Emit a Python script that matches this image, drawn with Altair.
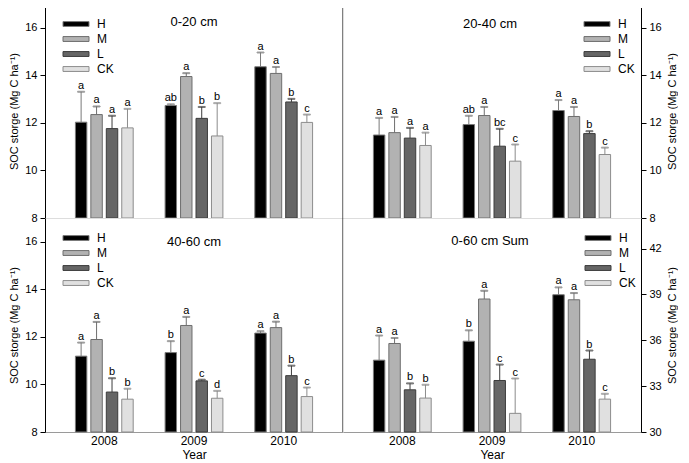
import altair as alt
import pandas as pd

years = ["2008", "2009", "2010"]
treatments = ["H", "M", "L", "CK"]
fill_colors = ["#000000", "#b2b2b2", "#666666", "#e0e0e0"]
edge_colors = ["#7a7a7a", "#6e6e6e", "#3c3c3c", "#8c8c8c"]

titles = ["0-20 cm", "20-40 cm", "40-60 cm", "0-60 cm Sum"]

mean_0_20 = [[12.03, 12.35, 11.76, 11.79], [12.73, 13.95, 12.19, 11.45], [14.36, 14.08, 12.88, 12.02]]
se_0_20 = [[1.28, 0.34, 0.54, 0.80], [0.05, 0.14, 0.48, 1.38], [0.60, 0.27, 0.13, 0.33]]
letters_0_20 = [["a", "a", "a", "a"], ["ab", "a", "b", "b"], ["a", "a", "b", "c"]]

mean_20_40 = [[11.49, 11.59, 11.36, 11.05], [11.93, 12.31, 11.02, 10.39], [12.52, 12.27, 11.55, 10.67]]
se_20_40 = [[0.72, 0.66, 0.43, 0.54], [0.37, 0.36, 0.73, 0.70], [0.44, 0.40, 0.10, 0.29]]
letters_20_40 = [["a", "a", "a", "a"], ["ab", "a", "bc", "c"], ["a", "a", "b", "c"]]

mean_40_60 = [[11.19, 11.89, 9.68, 9.38], [11.34, 12.48, 10.15, 9.42], [12.16, 12.39, 10.37, 9.49]]
se_40_60 = [[0.57, 0.74, 0.58, 0.44], [0.48, 0.36, 0.05, 0.31], [0.08, 0.25, 0.42, 0.38]]
letters_40_60 = [["a", "a", "b", "b"], ["b", "a", "c", "d"], ["a", "a", "b", "c"]]

mean_sum = [[34.70, 35.79, 32.76, 32.22], [35.94, 38.70, 33.37, 31.22], [38.98, 38.65, 34.76, 32.15]]
se_sum = [[1.61, 0.36, 0.42, 0.87], [0.71, 0.54, 1.04, 2.28], [0.48, 0.44, 0.57, 0.35]]
letters_sum = [["a", "a", "b", "b"], ["b", "a", "c", "c"], ["a", "a", "b", "c"]]

depth_ticks = [8, 10, 12, 14, 16]
depth_domain = [8, 17]
sum_ticks = [30, 33, 36, 39, 42]
sum_domain = [30, 44]

FONT = "Liberation Sans"
W, H = 298, 214
AXIS_TITLE = "SOC storge (Mg C ha\u207b\u00b9)"


def make_df(means, ses, letters):
    rows = []
    for yi, yr in enumerate(years):
        for ti, tr in enumerate(treatments):
            m = means[yi][ti]
            s = ses[yi][ti]
            rows.append({"year": yr, "treatment": tr, "mean": m,
                         "upper": round(m + s, 3), "letter": letters[yi][ti]})
    return pd.DataFrame(rows)


def panel(title, title_y, means, ses, letters, domain, ticks, side, bottom, legend_x):
    df = make_df(means, ses, letters)
    base = alt.Chart(df)
    x = alt.X("year:N", sort=years,
              scale=alt.Scale(paddingInner=0.311, paddingOuter=0.3166),
              axis=alt.Axis(title="Year" if bottom else None, labels=bottom, ticks=False,
                            labelAngle=0, domainColor="#9a9a9a", labelFontSize=12,
                            labelPadding=3, titlePadding=3, titleFontSize=12,
                            titleFontWeight="normal", labelColor="black", titleColor="black"))
    xo = alt.XOffset("treatment:N", sort=treatments,
                     scale=alt.Scale(paddingInner=0.26, paddingOuter=0.13))
    yscale = alt.Scale(domain=domain, zero=False, nice=False)
    yaxis = alt.Axis(values=ticks, orient=side, title=AXIS_TITLE, tickSize=5,
                     domainColor="black", tickColor="black", labelFontSize=11,
                     titleFontSize=11, titleFontWeight="normal", titleAngle=270,
                     titleBaseline="top" if side == "right" else "bottom",
                     labelPadding=3, titlePadding=5, grid=False,
                     labelColor="black", titleColor="black")
    color = alt.Color("treatment:N", sort=treatments,
                      scale=alt.Scale(domain=treatments, range=fill_colors),
                      legend=alt.Legend(title=None, orient="none", legendX=legend_x, legendY=14,
                                        symbolType="M-4,-0.75L4,-0.75L4,0.75L-4,0.75Z",
                                        symbolSize=42.25, symbolStrokeColor="#7a7a7a",
                                        symbolStrokeWidth=1, symbolOpacity=1,
                                        labelFontSize=12, labelFont=FONT, labelOffset=15,
                                        rowPadding=3, padding=0, labelColor="black"))
    stroke = alt.Stroke("treatment:N", sort=treatments,
                        scale=alt.Scale(domain=treatments, range=edge_colors), legend=None)

    bars = base.mark_bar(strokeWidth=1).encode(
        x=x, xOffset=xo, y=alt.Y("mean:Q", scale=yscale, axis=yaxis),
        y2=alt.datum(domain[0]), color=color, stroke=stroke)
    err = base.mark_rule(strokeWidth=1).encode(
        x=x, xOffset=xo, y=alt.Y("mean:Q", scale=yscale, axis=yaxis), y2="upper:Q", stroke=stroke)
    cap = base.mark_tick(orient="horizontal", size=7, thickness=1).encode(
        x=x, xOffset=xo, y=alt.Y("upper:Q", scale=yscale, axis=yaxis), stroke=stroke,
        color=alt.value("#555555"))
    lab = base.mark_text(baseline="alphabetic", dy=-3, fontSize=11, font=FONT, color="black").encode(
        x=x, xOffset=xo, y=alt.Y("upper:Q", scale=yscale, axis=yaxis), text="letter:N")
    ttl = alt.Chart(pd.DataFrame({"t": [title]})).mark_text(
        fontSize=13, font=FONT, color="black", baseline="middle").encode(
        text="t:N", x=alt.value(W / 2 - (2 if side == "right" else 0)), y=alt.value(title_y))
    layers = [bars, err, cap, lab, ttl]
    if side == "left":
        frame = alt.Chart(pd.DataFrame({"t": [0]})).mark_rule(color="black", strokeWidth=1).encode(
            x=alt.value(W), y=alt.value(0), y2=alt.value(H))
        layers.append(frame)
    return alt.layer(*layers).properties(width=W, height=H)


tl = panel(titles[0], 18, mean_0_20, se_0_20, letters_0_20, depth_domain, depth_ticks, "left", False, 25)
tr = panel(titles[1], 20, mean_20_40, se_20_40, letters_20_40, depth_domain, depth_ticks, "right", False, 248)
bl = panel(titles[2], 24, mean_40_60, se_40_60, letters_40_60, depth_domain, depth_ticks, "left", True, 25)
br = panel(titles[3], 23, mean_sum, se_sum, letters_sum, sum_domain, sum_ticks, "right", True, 249)

chart = alt.concat(tl, tr, bl, br, columns=2, spacing=0, bounds="flush").resolve_scale(
    y="independent", color="independent", stroke="independent").resolve_legend(
    color="independent").properties(
    padding={"top": -5, "left": 0, "right": 0, "bottom": 0}).configure_view(
    stroke=None).configure(font=FONT)

chart.save("out.html", embed_options={"renderer": "svg", "actions": False})
